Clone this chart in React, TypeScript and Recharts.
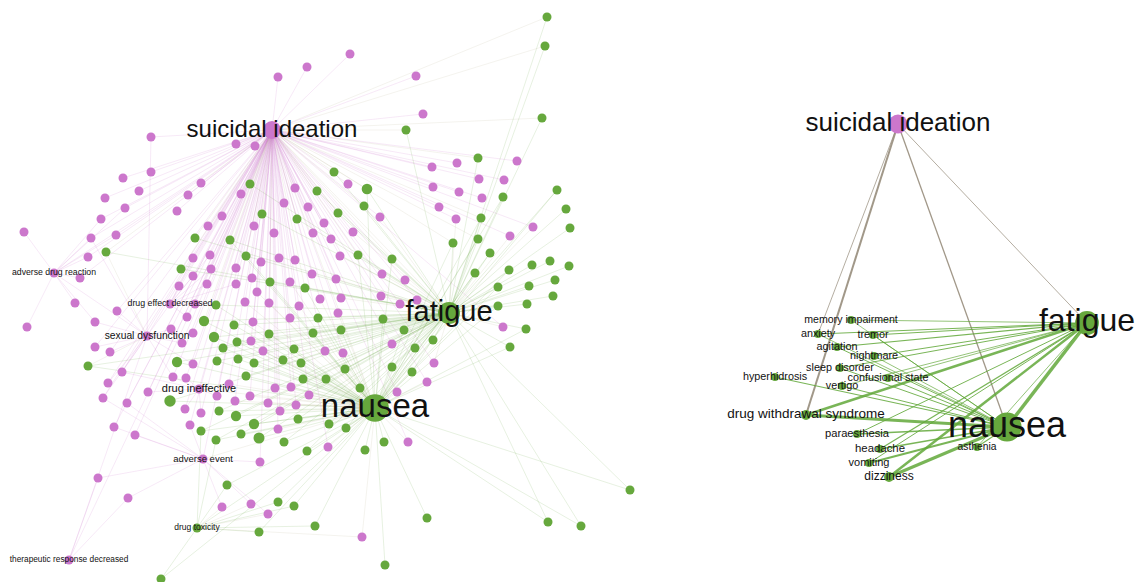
import React from 'react';
import { ScatterChart, Scatter, XAxis, YAxis, ReferenceLine } from 'recharts';

const W = 1139;
const H = 582;
const PURPLE = '#cc77cc';
const GREEN = '#66a83d';
const FONT = '"Liberation Sans", Arial, sans-serif';

// ---------- LEFT NETWORK ----------
// hubs: id, label, x, y, group, weight (node size), labelScale, links to other hubs
const leftHubs: [string, string, number, number, string, number, number, string][] = [
  ['S', 'suicidal ideation', 272, 130, 'p', 4, 24, 'FN'],
  ['F', 'fatigue', 449, 313, 'g', 6, 29, 'N'],
  ['N', 'nausea', 375, 408, 'g', 9.5, 33, ''],
  ['R', 'adverse drug reaction', 54, 273, 'p', 1, 8.7, 'SX'],
  ['D', 'drug effect decreased', 170, 304, 'p', 1, 8.8, 'SX'],
  ['X', 'sexual dysfunction', 147, 336, 'p', 1, 10.3, 'S'],
  ['I', 'drug ineffective', 199, 389, 'p', 1, 11, 'SN'],
  ['E', 'adverse event', 203, 459, 'p', 1, 9.5, 'SN'],
  ['T', 'drug toxicity', 197, 528, 'g', 1, 8.5, 'N'],
  ['P', 'therapeutic response decreased', 69, 560, 'p', 1, 8.3, 'SX'],
];

// purple terms: x, y, hub links
const leftPurple: [number, number, string][] = [
  [151,137,'SX'],[123,178,'S'],[151,172,'S'],[139,191,'S'],[105,198,'S'],[201,183,'S'],[188,195,'S'],
  [350,54,'S'],[307,67,'S'],[278,77,'S'],[416,76,'S'],[423,114,'S'],[236,144,'S'],[255,146,'S'],[241,194,'S'],[295,188,'S'],[348,184,'S'],
  [432,167,'S'],[457,163,'S'],[517,161,'S'],[479,179,'S'],[504,180,'S'],[433,187,'S'],[459,192,'S'],[482,198,'S'],
  [24,232,'R'],[125,208,'SR'],[101,219,'SR'],[91,238,'SRX'],[116,235,'SR'],[88,257,'SR'],[177,211,'S'],[222,216,'S'],[208,226,'S'],
  [193,258,'SD'],[210,255,'SD'],[193,276,'SD'],[211,269,'SD'],[179,286,'SD'],[207,284,'SD'],[80,278,'SR'],[75,303,'R'],[117,311,'SX'],
  [95,322,'RX'],[27,327,'R'],[195,304,'SD'],[187,317,'SD'],[171,329,'SX'],[193,333,'SX'],[182,343,'SX'],[95,347,'SX'],[110,352,'SX'],
  [193,364,'SX'],[122,372,'SXI'],[108,383,'SX'],[173,377,'SXI'],[186,378,'SI'],
  [284,203,'S'],[308,207,'S'],[380,217,'SF'],[254,226,'S'],[324,223,'S'],[274,233,'S'],[313,233,'S'],[353,232,'SF'],[331,239,'S'],
  [261,262,'S'],[279,258,'S'],[295,260,'S'],[340,256,'SF'],[236,268,'S'],[382,274,'SF'],[405,280,'SF'],[252,278,'S'],[290,282,'SN'],
  [312,274,'S'],[336,279,'SF'],[236,284,'SD'],[257,292,'SN'],[320,299,'SN'],[341,298,'SF'],[381,296,'SF'],[400,304,'SF'],[417,300,'SF'],
  [245,302,'SN'],[269,303,'SN'],[299,306,'SN'],[290,318,'SN'],[338,313,'SN'],[253,322,'SN'],[251,341,'SN'],[263,351,'SN'],[325,351,'SN'],
  [343,353,'SN'],[392,344,'SF'],
  [439,207,'S'],[456,219,'SF'],[533,227,'SF'],[510,236,'SF'],[503,327,'SF'],[434,363,'SF'],[427,382,'SN'],
  [229,384,'SN'],[275,388,'SN'],[291,387,'SN'],[397,392,'SN'],[250,396,'SN'],[309,395,'SN'],[235,401,'SN'],[268,403,'SN'],
  [296,405,'SN'],[280,411,'SN'],[278,429,'SN'],[328,447,'SN'],[408,442,'SN'],[260,462,'SE'],
  [103,398,'SEX'],[127,403,'SE'],[148,392,'SI'],[185,409,'SI'],[201,413,'SI'],[217,396,'SI'],[190,425,'SE'],[114,427,'SE'],
  [135,435,'SE'],[98,478,'EP'],[128,498,'EP'],[222,507,'ET'],[251,504,'ET'],[268,514,'ET'],[362,537,'NT'],
];

// green terms: x, y, hub links, weight
const leftGreen: [number, number, string, number][] = [
  [406,130,'SF',1],[334,172,'SF',1],[250,184,'SF',1],[317,191,'SF',1],[367,189,'SFN',1.4],[547,17,'SF',1],[545,46,'SF',1],
  [542,118,'SF',1],[478,158,'SF',1],[503,197,'FN',1],[557,190,'FN',1],
  [106,252,'SXF',1],[195,238,'SF',1],[181,269,'SF',1],[216,305,'SFN',1],[204,321,'SFN',1.3],[214,337,'FN',1.3],[88,366,'XNF',1],
  [177,362,'FN',1.3],[217,361,'FN',1],
  [262,214,'SF',1],[338,213,'SF',1],[364,206,'SF',1],[297,219,'SF',1],[230,240,'SFN',1],[246,256,'SFN',1],[358,255,'SFN',1],
  [392,259,'SFN',1],[270,282,'SFN',1],[305,288,'SFN',1],[318,318,'FN',1],[383,319,'FN',1],[234,325,'FN',1],[269,334,'FN',1],
  [313,333,'FN',1],[341,330,'FN',1],[404,330,'FN',1],[237,342,'FN',1],[223,348,'FN',1],[294,349,'FN',1],[415,348,'FN',1],
  [238,359,'FN',1],[254,363,'FN',1],[283,360,'FN',1],[301,363,'FN',1],[345,369,'FN',1],[392,367,'FN',1],[412,372,'FN',1],
  [246,376,'FN',1],[303,379,'FN',1],[326,379,'FN',1],[360,388,'FN',1],
  [566,209,'F',1],[570,228,'F',1],[481,218,'SFN',1],[453,243,'SFN',1],[478,239,'SFN',1],[490,253,'FN',1],[550,261,'F',1],
  [569,266,'F',1],[532,265,'F',1],[509,270,'FN',1],[475,273,'FN',1],[555,280,'F',1],[529,286,'F',1],[498,287,'FN',1],
  [553,296,'F',1],[527,304,'F',1],[498,306,'FN',1],[526,329,'FN',1],[510,347,'FN',1],[433,340,'FN',1],
  [170,401,'FN',1.6],[219,411,'FN',1],[201,431,'FNT',1],[216,440,'FNT',1],[236,416,'FN',1.3],[298,419,'FN',1],[254,424,'FN',1.3],
  [329,424,'FN',1],[346,428,'FN',1],[241,434,'FN',1],[259,438,'FN',1.5],[284,442,'FN',1],[307,451,'FN',1],[365,450,'N',1],
  [384,442,'N',1],[227,485,'NT',1],[278,502,'NT',1],[294,506,'NT',1],[259,532,'NT',1],[315,526,'NT',1],[385,565,'N',1],
  [427,518,'N',1],[630,490,'FN',1],[548,522,'FN',1],[581,526,'FN',1],[161,579,'NT',1],
];

// ---------- RIGHT NETWORK ----------
const rightNodes: [string, string, number, number, string, number, number][] = [
  ['SI', 'suicidal ideation', 898, 124, 'p', 4.4, 26],
  ['FA', 'fatigue', 1087, 323, 'g', 7, 32],
  ['NA', 'nausea', 1007, 427, 'g', 10.5, 36],
  ['MI', 'memory impairment', 851, 320, 'g', 0.8, 10.6],
  ['AX', 'anxiety', 818, 334, 'g', 0.8, 10.8],
  ['TR', 'tremor', 873, 335, 'g', 0.8, 10.8],
  ['AG', 'agitation', 837, 347, 'g', 0.8, 10.8],
  ['NM', 'nightmare', 874, 356, 'g', 0.8, 10.8],
  ['SD', 'sleep disorder', 840, 368, 'g', 0.8, 10.8],
  ['HH', 'hyperhidrosis', 775, 377, 'g', 0.8, 10.8],
  ['CS', 'confusional state', 888, 378, 'g', 0.8, 10.8],
  ['VE', 'vertigo', 842, 386, 'g', 0.8, 10.8],
  ['DW', 'drug withdrawal syndrome', 806, 415, 'g', 1.2, 13.5],
  ['PA', 'paraesthesia', 857, 434, 'g', 0.8, 11.2],
  ['HE', 'headache', 880, 449, 'g', 0.8, 11.4],
  ['AS', 'asthenia', 977, 447, 'g', 0.8, 10.3],
  ['VO', 'vomiting', 869, 463, 'g', 0.8, 11],
  ['DZ', 'dizziness', 889, 477, 'g', 1.2, 12],
];

const rightEdges: [string, string, number][] = [
  ['SI','DW',2],['SI','AX',0.8],['SI','NA',1.3],['SI','FA',0.8],
  ['FA','NA',3.5],
  ['FA','MI',0.8],['FA','AX',1],['FA','TR',1],['FA','AG',1.2],['FA','NM',1],['FA','SD',1],['FA','CS',0.8],['FA','VE',0.8],
  ['FA','DW',2.5],['FA','PA',1],['FA','HE',1.2],['FA','VO',1],['FA','DZ',2.5],['FA','AS',0.8],
  ['NA','AX',0.8],['NA','TR',1],['NA','AG',1],['NA','NM',0.8],['NA','SD',1],['NA','HH',1.2],['NA','CS',1],['NA','VE',1],
  ['NA','DW',3],['NA','PA',1.5],['NA','HE',1.5],['NA','VO',2],['NA','DZ',3],['NA','AS',1.2],['NA','MI',0.7],
];

type NodeDatum = { x: number; y: number; r: number; color: string; label?: string; fs?: number };
type Edge = { x1: number; y1: number; x2: number; y2: number; color: string; w: number; o: number };

const colorOf = (g: string) => (g === 'p' ? PURPLE : GREEN);
const mixColor = (a: string, b: string) => (a === b ? (a === 'p' ? '#cc77cc' : '#70a84a') : '#a8a27e');
const radius = (w: number) => 4.5 * Math.sqrt(w);

function build() {
  const nodes: NodeDatum[] = [];
  const labels: NodeDatum[] = [];
  const edges: Edge[] = [];
  const hubMap: Record<string, { x: number; y: number; g: string }> = {};
  leftHubs.forEach(([id, , x, y, g]) => { hubMap[id] = { x, y, g }; });

  const addLinks = (x: number, y: number, g: string, links: string) => {
    for (const c of links) {
      const h = hubMap[c];
      if (!h) continue;
      const same = h.g === g;
      edges.push({ x1: x, y1: y, x2: h.x, y2: h.y, color: mixColor(g, h.g), w: 0.65, o: same ? 0.26 : 0.2 });
    }
  };
  leftHubs.forEach(([, , x, y, g, , , links]) => addLinks(x, y, g, links));
  leftPurple.forEach(([x, y, links]) => addLinks(x, y, 'p', links));
  leftGreen.forEach(([x, y, links]) => addLinks(x, y, 'g', links));

  leftPurple.forEach(([x, y]) => nodes.push({ x, y, r: radius(1), color: PURPLE }));
  leftGreen.forEach(([x, y, , w]) => nodes.push({ x, y, r: radius(w), color: GREEN }));
  leftHubs.forEach(([, name, x, y, g, w, ls]) => {
    nodes.push({ x, y, r: radius(w), color: colorOf(g) });
    labels.push({ x, y, r: 0, color: '#000', label: name, fs: ls });
  });

  const rmap: Record<string, { x: number; y: number; g: string }> = {};
  rightNodes.forEach(([id, , x, y, g]) => { rmap[id] = { x, y, g }; });
  rightEdges.forEach(([a, b, w]) => {
    const A = rmap[a];
    const B = rmap[b];
    const brown = A.g !== B.g;
    edges.push({ x1: A.x, y1: A.y, x2: B.x, y2: B.y, color: brown ? '#978d7c' : '#62a83a', w, o: brown ? 0.9 : 0.85 });
  });
  rightNodes.forEach(([, name, x, y, g, w, ls]) => {
    nodes.push({ x, y, r: radius(w), color: colorOf(g) });
    labels.push({ x, y, r: 0, color: '#000', label: name, fs: ls });
  });
  return { nodes, labels, edges };
}

const NodeShape = (props: any) => {
  const { cx, cy, payload } = props;
  if (cx == null || cy == null) return null;
  return <circle cx={cx} cy={cy} r={payload.r} fill={payload.color} />;
};

const LabelShape = (props: any) => {
  const { cx, cy, payload } = props;
  if (cx == null || cy == null) return null;
  return (
    <text
      x={cx}
      y={cy - payload.fs * 0.08}
      textAnchor="middle"
      dominantBaseline="central"
      fontFamily={FONT}
      fontSize={payload.fs}
      fill="#111"
    >
      {payload.label}
    </text>
  );
};

export default function App() {
  const { nodes, labels, edges } = build();
  return (
    <div style={{ position: 'absolute', left: 0, top: 0, width: W, height: H, background: '#fff' }}>
      <ScatterChart width={W} height={H} margin={{ top: 0, right: 0, bottom: 0, left: 0 }}>
        <XAxis type="number" dataKey="x" domain={[0, W]} hide allowDataOverflow />
        <YAxis type="number" dataKey="y" domain={[0, H]} reversed hide allowDataOverflow />
        {edges.map((e, i) => (
          <ReferenceLine
            key={i}
            segment={[{ x: e.x1, y: e.y1 }, { x: e.x2, y: e.y2 }]}
            stroke={e.color}
            strokeWidth={e.w}
            strokeOpacity={e.o}
            ifOverflow="visible"
          />
        ))}
        <Scatter data={nodes} shape={NodeShape} isAnimationActive={false} />
        <Scatter data={labels} shape={LabelShape} isAnimationActive={false} />
      </ScatterChart>
    </div>
  );
}
